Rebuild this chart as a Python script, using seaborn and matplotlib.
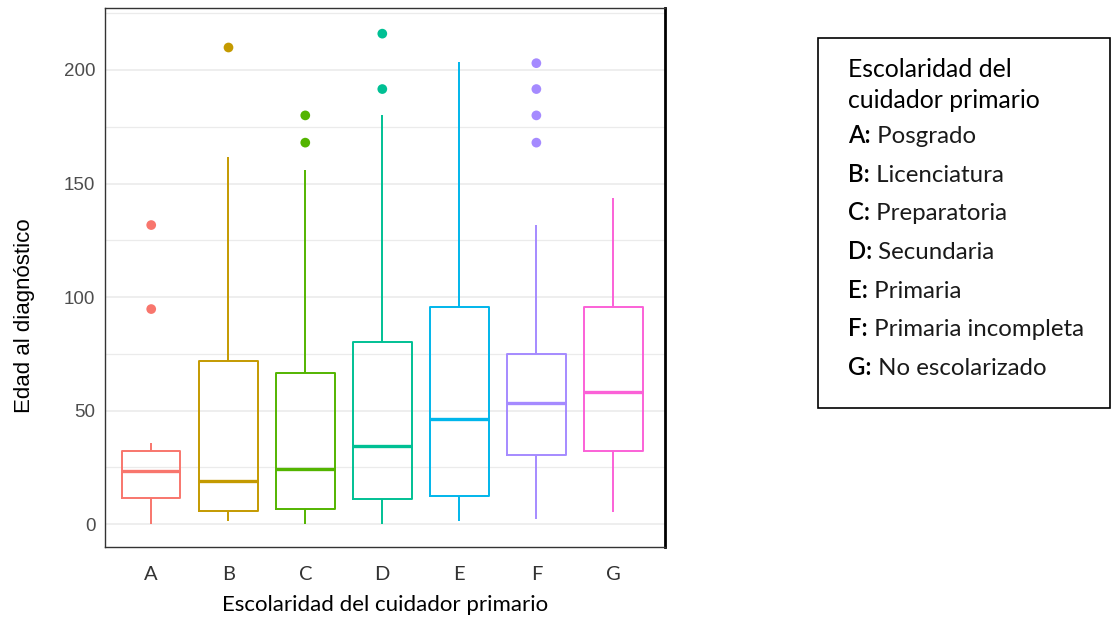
import numpy as np
import pandas as pd
import matplotlib
matplotlib.use("Agg")
import matplotlib.pyplot as plt
from matplotlib.patches import Rectangle
from matplotlib.ticker import MultipleLocator
import seaborn as sns

GROUPS = ["A", "B", "C", "D", "E", "F", "G"]
PALETTE = ["#F8766D", "#C49A00", "#53B400", "#00C094", "#00B6EB", "#A58AFF", "#FB61D7"]

# whisker low, Q1, median, Q3, whisker high
WHISKER_LOW = [0, 1.3, 0, 0, 1.3, 2.2, 5.3]
Q1 = [11.5, 5.7, 6.6, 11.0, 12.3, 30.4, 32.2]
MEDIAN = [23.3, 19.0, 24.2, 34.4, 46.3, 53.3, 58.1]
Q3 = [32.0, 71.8, 66.5, 80.2, 95.6, 74.9, 95.6]
WHISKER_HIGH = [35.7, 161.7, 156.0, 180.0, 203.5, 131.7, 143.6]

OUTLIERS = {
    "A": [131.7, 94.7],
    "B": [210.0],
    "C": [180.0, 168.0],
    "D": [216.0, 191.6],
    "F": [203.0, 191.6, 180.0, 168.0],
}

LEGEND_TITLE = ["Escolaridad del", "cuidador primario"]
LEGEND_ITEMS = ["Posgrado", "Licenciatura", "Preparatoria", "Secundaria",
                "Primaria", "Primaria incompleta", "No escolarizado"]

W, H = 1114, 618
TXT_FONT = "Lato"

box_df = pd.DataFrame({
    "grupo": np.repeat(GROUPS, 5),
    "edad": np.column_stack([WHISKER_LOW, Q1, MEDIAN, Q3, WHISKER_HIGH]).ravel(),
})
out_df = pd.DataFrame(
    [(g, v) for g, vals in OUTLIERS.items() for v in vals],
    columns=["grupo", "edad"],
)

sns.set_theme(style="white")
fig = plt.figure(figsize=(W / 100, H / 100), dpi=100)
ax = fig.add_axes([105 / W, 1 - 547 / H, (665 - 105) / W, (547 - 8) / H])

ax.yaxis.set_major_locator(MultipleLocator(50))
ax.yaxis.set_minor_locator(MultipleLocator(25))
ax.grid(True, which="major", color="#EBEBEB", linewidth=1.2)
ax.grid(True, which="minor", axis="y", color="#EBEBEB", linewidth=0.9)
ax.set_axisbelow(True)

sns.boxplot(
    data=box_df, x="grupo", y="edad", hue="grupo",
    order=GROUPS, hue_order=GROUPS, palette=PALETTE,
    fill=False, whis=(0, 100), showfliers=False, showcaps=False,
    width=0.76, linewidth=1.4, legend=False, ax=ax,
    medianprops={"linewidth": 2.4},
)
sns.stripplot(
    data=out_df, x="grupo", y="edad", hue="grupo",
    order=GROUPS, hue_order=GROUPS, palette=PALETTE,
    jitter=False, size=7, linewidth=0, legend=False, ax=ax,
)

ax.set_xlim(-0.6, 6.67)
ax.set_ylim(-10.1, 227.3)

for side in ["left", "top", "bottom"]:
    ax.spines[side].set_color("#333333")
    ax.spines[side].set_linewidth(1.0)
ax.spines["right"].set_color("black")
ax.spines["right"].set_linewidth(2.0)

ax.tick_params(axis="both", which="major", length=4, width=1, color="#333333")
ax.tick_params(axis="y", which="minor", length=0)
ax.tick_params(axis="y", labelsize=13.5, labelcolor="#4D4D4D", pad=3)
ax.tick_params(axis="x", labelsize=14.5, labelcolor="#333333", pad=10)
for lab in ax.get_yticklabels():
    lab.set_fontfamily("Liberation Sans")
for lab in ax.get_xticklabels():
    lab.set_fontfamily(TXT_FONT)

ax.set_xlabel("Escolaridad del cuidador primario", fontsize=16, family=TXT_FONT,
              color="black", labelpad=8)
ax.set_ylabel("Edad al diagnóstico", fontsize=16, family="Liberation Sans",
              color="black")
ax.yaxis.set_label_coords(-0.125, 0.43)

# text box on the right
fig.patches.append(Rectangle((818 / W, 1 - 408 / H), (1110 - 818) / W, (408 - 38) / H,
                             transform=fig.transFigure, fill=False,
                             edgecolor="black", linewidth=1.2))
for line, base in zip(LEGEND_TITLE, [77, 108]):
    fig.text(848 / W, 1 - base / H, line, fontsize=17.8, family=TXT_FONT,
             color="black", va="baseline")

baselines = [143, 182, 220, 259, 298, 336, 375]
for g, desc, base in zip(GROUPS, LEGEND_ITEMS, baselines):
    y = 1 - base / H
    t = fig.text(848 / W, y, g + ":", fontsize=17.3, family=TXT_FONT,
                 fontweight="semibold", color="black", va="baseline")
    ax.annotate(" " + desc, xy=(1, y), xycoords=(t, "figure fraction"),
                fontsize=17.3, family=TXT_FONT, color="#1A1A1A", va="baseline",
                annotation_clip=False)

fig.savefig("out.png", dpi=100)
